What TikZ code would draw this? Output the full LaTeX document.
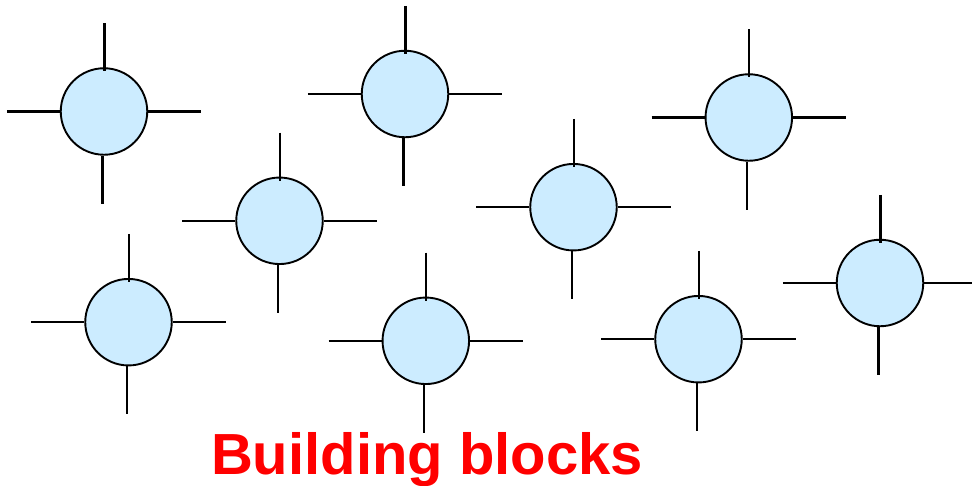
\documentclass[tikz,border=0pt]{standalone}
\usepackage{fontspec}
\setmainfont{Liberation Sans}
\definecolor{blockfill}{HTML}{CCECFF}
\definecolor{titlered}{HTML}{FF0000}
\begin{document}
\begin{tikzpicture}[x=1pt,y=-1pt,
  block/.style={circle,draw=black,fill=blockfill,line width=1.9pt,minimum size=86.5pt,inner sep=0pt},
  pin/.style={draw=black,line width=2.1pt},
  title/.style={text=titlered,font=\fontsize{58}{58}\selectfont\bfseries,inner sep=0pt,anchor=base}]
\useasboundingbox (0,0) rectangle (972,486);
\foreach \n/\cx/\cy in {a/104/111.5, b/405/94, c/748.8/117.5, d/279.5/220.8, e/573.5/207.2,
                        f/128.5/322.2, g/425.8/340.8, h/698.5/339.2, k/880/283}{
  % the block itself
  \node[block] (\n) at (\cx,\cy) {};
  % four terminals: top one reaches slightly into the block
  \coordinate (\n-t) at ([xshift=0.5pt,yshift=44pt]\n.north);
  \coordinate (\n-b) at ([xshift=-1.5pt,yshift=-48pt]\n.south);
  \coordinate (\n-l) at ([xshift=-53pt]\n.west);
  \coordinate (\n-r) at ([xshift=53pt]\n.east);
  \draw[pin] (\n-t) -- ([xshift=0.5pt,yshift=-4pt]\n.north);
  \draw[pin] ([xshift=-1.5pt]\n.south) -- (\n-b);
  \draw[pin] (\n-l) -- (\n.west);
  \draw[pin] (\n.east) -- (\n-r);
}
\node[title] (caption) at (427,474) {Building blocks};
\end{tikzpicture}
\end{document}
